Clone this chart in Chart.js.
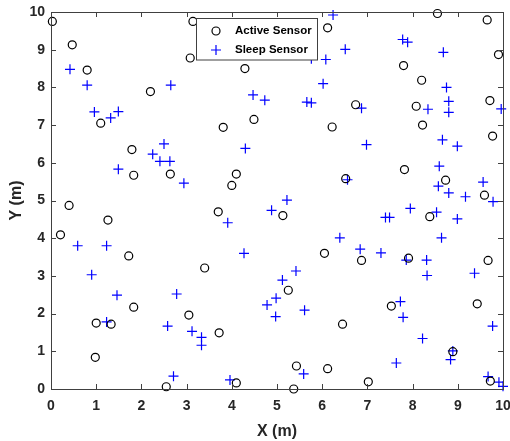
<!DOCTYPE html>
<html>
<head>
<meta charset="utf-8">
<script src="https://cdn.jsdelivr.net/npm/chart.js@4.4.1/dist/chart.umd.min.js"></script>
<style>
  body { margin: 0; background: #fff; }
  #wrap { width: 510px; height: 441px; }
</style>
</head>
<body>
<div id="wrap"><canvas id="scatter" width="510" height="441"></canvas></div>
<script>
// sensor positions (metres)
var activeX = [0.03, 0.47, 0.80, 1.10, 2.20, 1.79, 1.83, 2.64, 0.40, 3.14, 3.08, 4.29, 3.81, 4.49, 4.10, 4.00, 3.70,
  8.55, 9.65, 6.12, 9.90, 7.80, 8.20, 6.74, 8.08, 9.71, 6.22, 8.22, 9.77, 7.82, 6.52, 8.73, 9.59,
  1.26, 0.21, 1.72, 3.40, 1.83, 3.05, 1.00, 1.33, 3.72, 0.98, 2.55, 4.10,
  5.13, 8.38, 6.05, 6.87, 7.91, 9.67, 5.25, 7.53, 9.43, 6.45, 8.89, 5.43, 6.12, 7.02, 5.37, 9.72];
var activeY = [9.75, 9.13, 8.46, 7.05, 7.89, 6.35, 5.67, 5.70, 4.87, 9.75, 8.78, 8.50, 6.94, 7.15, 5.70, 5.40, 4.70,
  9.96, 9.79, 9.58, 8.87, 8.58, 8.19, 7.54, 7.50, 7.65, 6.95, 7.00, 6.71, 5.82, 5.58, 5.54, 5.14,
  4.48, 4.09, 3.53, 3.21, 2.17, 1.96, 1.75, 1.72, 1.49, 0.84, 0.06, 0.16,
  4.60, 4.57, 3.60, 3.41, 3.47, 3.41, 2.62, 2.20, 2.26, 1.72, 0.99, 0.61, 0.54, 0.19, 0.00, 0.21];

var sleepX = [0.42, 0.80, 0.96, 1.32, 1.49, 1.49, 2.25, 2.41, 2.50, 2.63, 2.65, 2.94, 4.30, 4.47,
  6.24, 7.78, 7.89, 6.51, 8.68, 6.08, 5.76, 6.02, 8.75, 4.73, 5.66, 5.76, 6.87, 8.34, 8.80, 8.80, 9.96,
  6.98, 8.66, 8.99, 8.59, 6.56, 8.57, 8.80, 9.17, 9.56, 9.78, 5.22, 4.88, 7.95,
  3.91, 0.59, 1.23, 4.27, 0.90, 1.46, 2.78, 1.23, 2.58, 3.12, 3.33, 3.33, 2.71, 3.96,
  7.40, 7.49, 8.53, 8.99, 6.39, 8.64, 6.84, 7.30, 7.86, 8.31, 8.32, 9.37, 5.42, 5.12, 4.98, 4.78,
  4.97, 5.61, 7.73, 7.79, 9.77, 8.22, 8.89, 8.84, 7.64, 5.59, 9.67, 9.91, 10.0];
var sleepY = [8.48, 8.06, 7.35, 7.19, 7.36, 5.83, 6.23, 6.04, 6.50, 6.04, 8.06, 5.46, 6.38, 7.80,
  9.92, 9.27, 9.20, 9.01, 8.93, 8.74, 8.76, 8.10, 8.00, 7.66, 7.61, 7.59, 7.45, 7.42, 7.63, 7.34, 7.43,
  6.48, 6.61, 6.44, 5.91, 5.55, 5.38, 5.20, 5.10, 5.49, 4.97, 5.01, 4.74, 4.79,
  4.41, 3.80, 3.80, 3.60, 3.03, 2.49, 2.52, 1.78, 1.67, 1.53, 1.37, 1.16, 0.34, 0.24,
  4.55, 4.55, 4.69, 4.51, 4.01, 4.01, 3.71, 3.61, 3.42, 3.42, 3.01, 3.07, 3.13, 2.89, 2.41, 2.23,
  1.92, 2.09, 2.32, 1.90, 1.67, 1.34, 1.01, 0.78, 0.69, 0.40, 0.33, 0.18, 0.07];

var tickValues = [0, 1, 2, 3, 4, 5, 6, 7, 8, 9, 10];
var seriesNames = ["Active Sensor", "Sleep Sensor"];

function toPoints(xs, ys) {
  return xs.map(function (x, i) { return { x: x, y: ys[i] }; });
}

var ink = "#262626";
var tickFont = { family: "'Liberation Sans', Arial, sans-serif", size: 14, weight: "bold" };
var titleFont = { family: "'Liberation Sans', Arial, sans-serif", size: 16, weight: "bold" };

// box, inward ticks and the inset legend, drawn on top of the markers
var frame = {
  id: "frame",
  afterDatasetsDraw: function (chart) {
    var c = chart.ctx, a = chart.chartArea;
    var xs = chart.scales.x, ys = chart.scales.y;
    c.save();

    // legend box
    var lx = 196.5, ly = 18.5, lw = 121, lh = 41.5;
    c.fillStyle = "#fff";
    c.fillRect(lx, ly, lw, lh);
    c.strokeStyle = "#404040";
    c.lineWidth = 1;
    c.strokeRect(lx, ly, lw, lh);

    c.strokeStyle = "#000";
    c.lineWidth = 1.2;
    c.beginPath();
    c.arc(216, 31, 4, 0, Math.PI * 2);
    c.stroke();
    c.strokeStyle = "#0000ff";
    c.beginPath();
    c.moveTo(211, 50); c.lineTo(221, 50);
    c.moveTo(216, 45); c.lineTo(216, 55);
    c.stroke();

    c.fillStyle = "#000";
    c.font = "bold 11.5px 'Liberation Sans', Arial, sans-serif";
    c.textBaseline = "middle";
    c.fillText(seriesNames[0], 235, 31);
    c.fillText(seriesNames[1], 235, 50);

    // axes box
    c.strokeStyle = "#404040";
    c.lineWidth = 1;
    c.strokeRect(a.left + 0.5, a.top + 0.5, a.right - a.left, a.bottom - a.top);

    // ticks pointing inward
    c.beginPath();
    tickValues.forEach(function (v) {
      var px = Math.round(xs.getPixelForValue(v)) + 0.5;
      c.moveTo(px, a.bottom); c.lineTo(px, a.bottom - 5);
      c.moveTo(px, a.top); c.lineTo(px, a.top + 5);
      var py = Math.round(ys.getPixelForValue(v)) + 0.5;
      c.moveTo(a.left, py); c.lineTo(a.left + 5, py);
      c.moveTo(a.right, py); c.lineTo(a.right - 5, py);
    });
    c.stroke();
    c.restore();
  }
};

var ctx = document.getElementById("scatter").getContext("2d");
var sensorChart = new Chart(ctx, {
  type: "scatter",
  data: {
    datasets: [{
      label: seriesNames[0],
      data: toPoints(activeX, activeY),
      pointStyle: "circle",
      pointRadius: 4,
      pointBorderWidth: 1.2,
      pointBorderColor: "#000",
      pointBackgroundColor: "rgba(0,0,0,0)",
      clip: false
    }, {
      label: seriesNames[1],
      data: toPoints(sleepX, sleepY),
      pointStyle: "cross",
      pointRadius: 5,
      pointBorderWidth: 1.2,
      pointBorderColor: "#0000ff",
      pointBackgroundColor: "#0000ff",
      clip: false
    }]
  },
  options: {
    responsive: false,
    animation: false,
    layout: { autoPadding: false, padding: { top: 12, right: 7, left: 0, bottom: 0 } },
    plugins: { legend: { display: false }, tooltip: { enabled: false } },
    scales: {
      x: {
        type: "linear",
        min: 0, max: 10,
        grid: { display: false, drawTicks: false },
        border: { display: false },
        ticks: { stepSize: 1, color: ink, font: tickFont, padding: 9, maxRotation: 0 },
        title: { display: true, text: "X (m)", color: ink, font: titleFont, padding: { top: 0, bottom: 0 } },
        afterFit: function (s) {
          s.height = 52;
          s.paddingLeft = 0; s.paddingRight = 0;
        }
      },
      y: {
        type: "linear",
        min: 0, max: 10,
        grid: { display: false, drawTicks: false },
        border: { display: false },
        ticks: { stepSize: 1, color: ink, font: tickFont, padding: 6 },
        title: { display: true, text: "Y (m)", color: ink, font: titleFont, padding: { top: 7, bottom: 0 } },
        afterFit: function (s) {
          s.width = 51;
          s.paddingTop = 0; s.paddingBottom = 0;
        }
      }
    }
  },
  plugins: [frame]
});
</script>
</body>
</html>
